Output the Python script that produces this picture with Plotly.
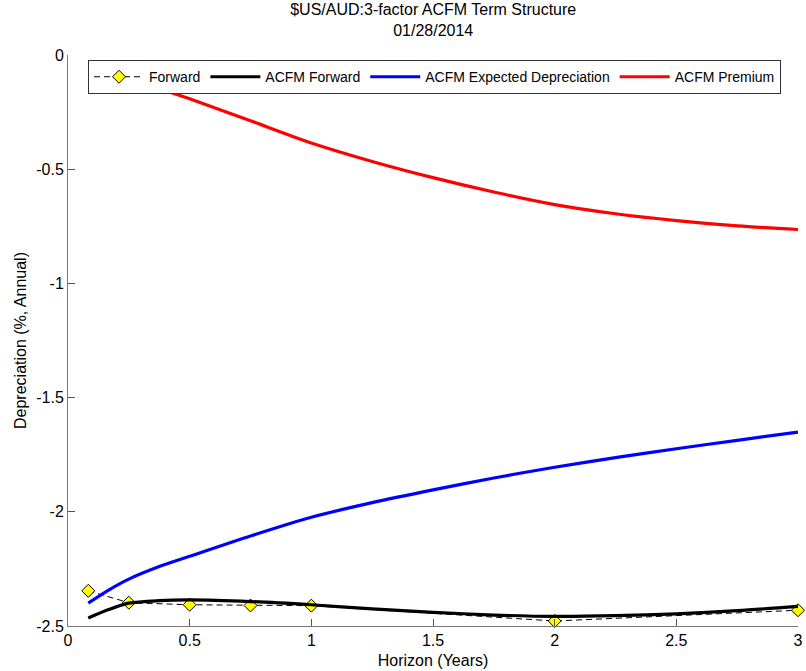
import plotly.graph_objects as go

# ---- data ----
fwd_x = [1/12, 0.25, 0.5, 0.75, 1.0, 2.0, 3.0]
fwd_y = [-2.346, -2.398, -2.407, -2.410, -2.411, -2.478, -2.431]

grid_x = [1/12, 0.167, 0.25, 0.375, 0.5, 0.75, 1.0, 1.25, 1.5, 1.75, 2.0, 2.25, 2.5, 2.75, 3.0]
acfm_fwd = [-2.465, -2.428, -2.400, -2.389, -2.386, -2.393, -2.407, -2.425, -2.440, -2.452,
            -2.458, -2.455, -2.447, -2.433, -2.414]
acfm_exp = [-2.400, -2.343, -2.295, -2.240, -2.195, -2.106, -2.024, -1.960, -1.904, -1.852,
            -1.805, -1.763, -1.724, -1.687, -1.651]
acfm_prem = [-0.065, -0.086, -0.106, -0.148, -0.192, -0.288, -0.385, -0.466, -0.537, -0.600,
             -0.655, -0.695, -0.725, -0.748, -0.764]

x_ticks = [0, 0.5, 1, 1.5, 2, 2.5, 3]
x_tick_labels = ["0", "0.5", "1", "1.5", "2", "2.5", "3"]
y_ticks = [0, -0.5, -1, -1.5, -2, -2.5]
y_tick_labels = ["0", "-0.5", "-1", "-1.5", "-2", "-2.5"]

FONT = "Liberation Sans, Arial, sans-serif"

fig = go.Figure()
fig.add_trace(go.Scatter(
    x=fwd_x, y=fwd_y, name="Forward", mode="lines+markers", cliponaxis=False,
    line=dict(color="black", width=1, dash="6px,4px"),
    marker=dict(symbol="diamond", size=10, color="#FFFF00",
                line=dict(color="black", width=1))))
fig.add_trace(go.Scatter(
    x=grid_x, y=acfm_fwd, name="ACFM Forward", mode="lines",
    line=dict(color="black", width=3.2, shape="spline", smoothing=0.8)))
fig.add_trace(go.Scatter(
    x=grid_x, y=acfm_exp, name="ACFM Expected Depreciation", mode="lines",
    line=dict(color="#0000FF", width=3.2, shape="spline", smoothing=0.8)))
fig.add_trace(go.Scatter(
    x=grid_x, y=acfm_prem, name="ACFM Premium", mode="lines",
    line=dict(color="#FF0000", width=3.2, shape="spline", smoothing=0.8)))

axis_common = dict(
    showgrid=False, zeroline=False, showline=True, linecolor="#777777",
    linewidth=1, ticks="inside", ticklen=7, tickcolor="#555555",
    tickfont=dict(family=FONT, size=16, color="black"),
    mirror=False,
)

fig.update_layout(
    width=806, height=671,
    paper_bgcolor="white", plot_bgcolor="white",
    margin=dict(l=68, r=8, t=55, b=45),
    font=dict(family=FONT, color="black"),
    title=dict(text="$US/AUD:3-factor ACFM Term Structure<br>01/28/2014",
               x=0.5375, xanchor="center", yref="container", y=0.977,
               yanchor="top",
               font=dict(family=FONT, size=16, color="black")),
    xaxis=dict(range=[0, 3], tickvals=x_ticks, ticktext=x_tick_labels,
               title=dict(text="Horizon (Years)", standoff=6,
                          font=dict(family=FONT, size=16)),
               automargin=False, **axis_common),
    yaxis=dict(range=[-2.5, 0], tickvals=y_ticks, ticktext=y_tick_labels,
               title=dict(text="Depreciation (%, Annual)", standoff=5,
                          font=dict(family=FONT, size=16)),
               automargin=False, **axis_common),
    legend=dict(orientation="h", x=0.0274, xanchor="left", y=0.991,
                yanchor="top", bgcolor="white", bordercolor="#333333",
                borderwidth=1, font=dict(family=FONT, size=14, color="black"),
                itemwidth=50),
    showlegend=True,
)

# remove the default 8px page margin so the figure fills the window exactly
fig.write_html(
    "out.html",
    config={"displayModeBar": False},
    post_script="document.body.style.margin='0';document.body.style.overflow='hidden';",
)
